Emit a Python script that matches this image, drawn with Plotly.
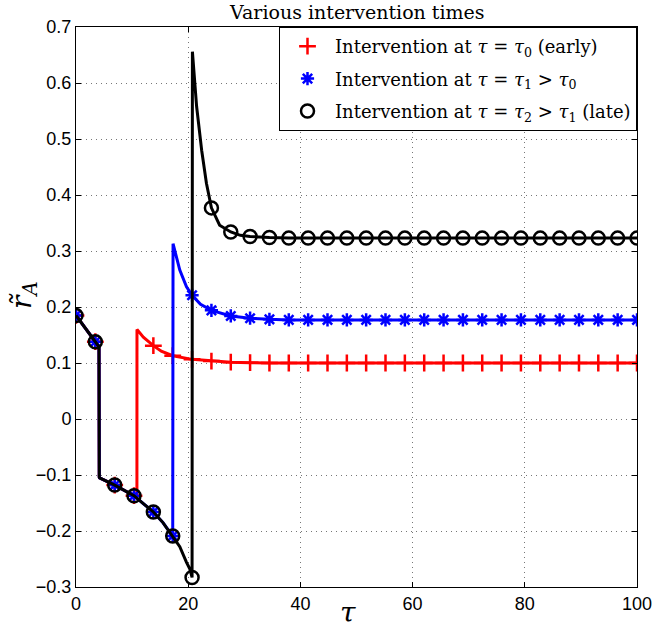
import plotly.graph_objects as go

# ---------------- data ----------------
marker_tau = [0.00, 3.45, 6.90, 10.34, 13.79, 17.24, 20.69, 24.14, 27.59, 31.03,
              34.48, 37.93, 41.38, 44.83, 48.28, 51.72, 55.17, 58.62, 62.07, 65.52,
              68.97, 72.41, 75.86, 79.31, 82.76, 86.21, 89.66, 93.10, 96.55, 100.00]

red_marker = [0.185, 0.138, -0.118, -0.137, 0.131, 0.113, 0.1065, 0.1035, 0.1015, 0.1005,
              0.100, 0.100, 0.100, 0.100, 0.100, 0.100, 0.100, 0.100, 0.100, 0.100,
              0.100, 0.100, 0.100, 0.100, 0.100, 0.100, 0.100, 0.100, 0.100, 0.100]
blue_marker = [0.185, 0.138, -0.118, -0.137, -0.166, -0.209, 0.221, 0.194, 0.184, 0.180,
               0.178, 0.177, 0.177, 0.177, 0.177, 0.177, 0.177, 0.177, 0.177, 0.177,
               0.177, 0.177, 0.177, 0.177, 0.177, 0.177, 0.177, 0.177, 0.177, 0.177]
black_marker = [0.185, 0.138, -0.118, -0.137, -0.166, -0.209, -0.283, 0.377, 0.334, 0.326,
                0.324, 0.323, 0.323, 0.323, 0.323, 0.323, 0.323, 0.323, 0.323, 0.323,
                0.323, 0.323, 0.323, 0.323, 0.323, 0.323, 0.323, 0.323, 0.323, 0.323]

red_line_tau = [0.00, 3.45, 4.10, 4.15, 4.20, 6.90, 8.60, 10.34, 10.86, 10.87,
                12.00, 13.79, 15.20, 17.24, 20.69, 24.14, 27.59, 31.03, 34.48, 100.0]
red_line_val = [0.185, 0.138, 0.129, -0.104, -0.105, -0.118, -0.127, -0.137, -0.141, 0.160,
                0.146, 0.131, 0.121, 0.113, 0.1065, 0.1035, 0.1015, 0.1005, 0.100, 0.100]

blue_line_tau = [0.00, 3.45, 4.10, 4.15, 4.20, 6.90, 8.60, 10.34, 12.00, 13.79,
                 15.50, 17.24, 17.30, 18.00, 18.50, 19.70, 20.69, 22.20, 24.14, 27.59,
                 31.03, 34.48, 37.93, 100.0]
blue_line_val = [0.185, 0.138, 0.129, -0.104, -0.105, -0.118, -0.127, -0.137, -0.151, -0.166,
                 -0.185, -0.209, 0.313, 0.283, 0.266, 0.236, 0.221, 0.205, 0.194, 0.184,
                 0.180, 0.178, 0.177, 0.177]

black_line_tau = [0.00, 3.45, 4.10, 4.15, 4.20, 6.90, 8.60, 10.34, 12.00, 13.79,
                  15.50, 17.24, 18.50, 19.70, 20.30, 20.69, 20.75, 21.50, 22.40, 23.25,
                  24.14, 25.60, 27.59, 29.30, 31.03, 34.48, 37.93, 100.0]
black_line_val = [0.185, 0.138, 0.129, -0.104, -0.105, -0.118, -0.127, -0.137, -0.151, -0.166,
                  -0.185, -0.209, -0.228, -0.256, -0.268, -0.283, 0.656, 0.558, 0.480, 0.421,
                  0.377, 0.346, 0.334, 0.328, 0.326, 0.324, 0.323, 0.323]

x_ticks = [0, 20, 40, 60, 80, 100]
y_ticks = [-0.3, -0.2, -0.1, 0, 0.1, 0.2, 0.3, 0.4, 0.5, 0.6, 0.7]
y_ticktext = ["\u22120.3", "\u22120.2", "\u22120.1", "0", "0.1", "0.2", "0.3", "0.4", "0.5", "0.6", "0.7"]

legend_names = [
    "Intervention at <i>τ</i> = <i>τ</i><sub>0</sub> (early)",
    "Intervention at <i>τ</i> = <i>τ</i><sub>1</sub> &gt; <i>τ</i><sub>0</sub>",
    "Intervention at <i>τ</i> = <i>τ</i><sub>2</sub> &gt; <i>τ</i><sub>1</sub> (late)",
]

# ---------------- figure ----------------
SERIF = "DejaVu Serif, Liberation Serif, serif"
SANS = "Liberation Sans, Arial, sans-serif"

fig = go.Figure()

series = [
    (red_line_tau, red_line_val, red_marker, "#ff0000", dict(symbol="cross-thin-open", size=12, line=dict(color="#ff0000", width=2.5)), 3),
    (blue_line_tau, blue_line_val, blue_marker, "#0000ff", dict(symbol="asterisk-open", size=11, line=dict(color="#0000ff", width=2.5)), 3),
    (black_line_tau, black_line_val, black_marker, "#000000", dict(symbol="circle-open", size=13, line=dict(color="#000000", width=2.5)), 3),
]

for i, (lt, lv, mv, col, mk, lw) in enumerate(series):
    fig.add_trace(go.Scatter(x=lt, y=lv, mode="lines", line=dict(color=col, width=lw),
                             showlegend=False, legendgroup=f"g{i}", hoverinfo="skip"))
    fig.add_trace(go.Scatter(x=marker_tau, y=mv, mode="markers", marker=dict(color=col, **mk),
                             name=legend_names[i], legendgroup=f"g{i}"))

axis_common = dict(
    showline=True, linecolor="black", linewidth=1, mirror="ticks",
    ticks="inside", ticklen=5, tickcolor="black",
    showgrid=True, gridcolor="#777777", griddash="1px,4px", gridwidth=1,
    zeroline=False, tickfont=dict(family=SANS, size=18, color="black"),
    automargin=False, ticklabeloverflow="allow",
)

fig.update_xaxes(range=[0, 100], tickvals=x_ticks, **axis_common)
fig.update_yaxes(range=[-0.3, 0.7], tickvals=y_ticks, ticktext=y_ticktext, **axis_common)

fig.update_layout(
    width=652, height=635,
    margin=dict(l=76, r=15, t=27, b=48),
    paper_bgcolor="white", plot_bgcolor="white",
    legend=dict(x=1, y=1, xanchor="right", yanchor="top",
                bordercolor="black", borderwidth=1, bgcolor="white",
                font=dict(family=SERIF, size=18, color="black"),
                traceorder="grouped", tracegroupgap=6, itemwidth=45),
    annotations=[
        dict(text="Various intervention times", xref="paper", yref="paper",
             x=0.5, y=1, yshift=15, xanchor="center", yanchor="middle", showarrow=False,
             font=dict(family=SERIF, size=19, color="black")),
        dict(text="<i>τ</i>", xref="paper", yref="paper", x=0.485, y=0, yshift=-25,
             xanchor="center", yanchor="middle", showarrow=False,
             font=dict(family=SERIF, size=28, color="black")),
        dict(text="<i>r̃</i><sub><i>A</i></sub>", xref="paper", yref="paper", x=0, xshift=-53,
             y=0.5, yshift=12, xanchor="center", yanchor="middle", textangle=-90, showarrow=False,
             font=dict(family=SERIF, size=28, color="black")),
    ],
)

fig.write_html("out.html", config={"displayModeBar": False},
               post_script="document.body.style.margin='0px';")
